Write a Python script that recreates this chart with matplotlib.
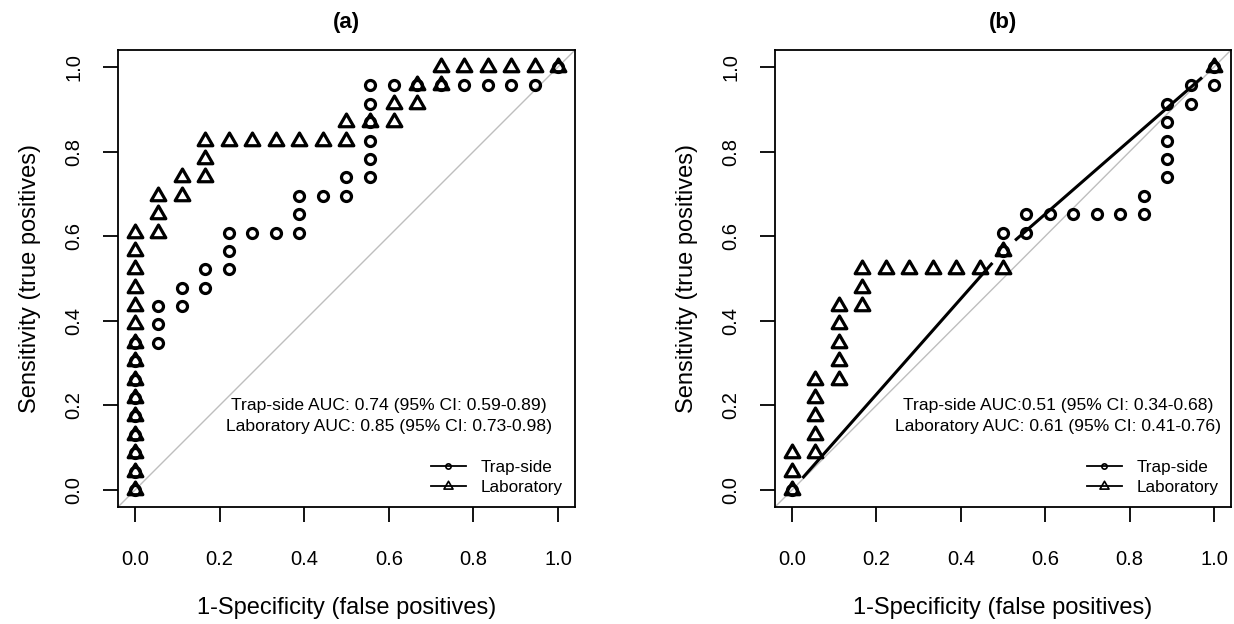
import matplotlib
matplotlib.use("Agg")
import matplotlib.pyplot as plt
import numpy as np
from matplotlib.lines import Line2D
from matplotlib.path import Path
from matplotlib.ticker import FormatStrFormatter

plt.rcParams["font.family"] = ["Liberation Sans", "DejaVu Sans"]

N_NEG = 18  # negatives -> false positive steps
N_POS = 23  # positives -> true positive steps

# ROC points as counts (false positives, true positives), in threshold order
trap_a_fp = [0, 0, 0, 0, 0, 0, 0, 0, 0, 1, 1, 1, 2, 2, 3, 3, 4, 4, 4, 5, 6, 7, 7, 7,
             8, 9, 9, 10, 10, 10, 10, 10, 10, 11, 12, 13, 14, 15, 16, 17, 18]
trap_a_tp = [0, 1, 2, 3, 4, 5, 6, 7, 8, 8, 9, 10, 10, 11, 11, 12, 12, 13, 14, 14, 14, 14, 15, 16,
             16, 16, 17, 17, 18, 19, 20, 21, 22, 22, 22, 22, 22, 22, 22, 22, 23]

lab_a_fp = [0, 0, 0, 0, 0, 0, 0, 0, 0, 0, 0, 0, 0, 0, 0, 1, 1, 1, 2, 2, 3, 3, 3,
            4, 5, 6, 7, 8, 9, 9, 10, 11, 11, 12, 12, 13, 13, 14, 15, 16, 17, 18]
lab_a_tp = [0, 1, 2, 3, 4, 5, 6, 7, 8, 9, 10, 11, 12, 13, 14, 14, 15, 16, 16, 17, 17, 18, 19,
            19, 19, 19, 19, 19, 19, 20, 20, 20, 21, 21, 22, 22, 23, 23, 23, 23, 23, 23]

trap_b_fp = [0, 9, 9, 10, 10, 11, 12, 13, 14, 15, 15, 16, 16, 16, 16, 16, 17, 17, 18, 18]
trap_b_tp = [0, 13, 14, 14, 15, 15, 15, 15, 15, 15, 16, 17, 18, 19, 20, 21, 21, 22, 22, 23]

lab_b_fp = [0, 0, 0, 1, 1, 1, 1, 1, 2, 2, 2, 2, 2, 3, 3, 3, 4, 5, 6, 7, 8, 9, 9, 18]
lab_b_tp = [0, 1, 2, 2, 3, 4, 5, 6, 6, 7, 8, 9, 10, 10, 11, 12, 12, 12, 12, 12, 12, 12, 13, 23]

auc_a = ["Trap-side AUC: 0.74 (95% CI: 0.59-0.89)",
         "Laboratory AUC: 0.85 (95% CI: 0.73-0.98)"]
auc_b = ["Trap-side AUC:0.51 (95% CI: 0.34-0.68)",
         "Laboratory AUC: 0.61 (95% CI: 0.41-0.76)"]

TRIANGLE = Path([(0, 1.155), (-1, -0.577), (1, -0.577), (0, 1.155)], closed=True)
TICKS = [0.0, 0.2, 0.4, 0.6, 0.8, 1.0]


def connect(ax, x, y, gap=16, **kw):
    """type='b' style: join points, leaving a gap round each marker"""
    pts = ax.transData.transform(np.column_stack([x, y]))
    inv = ax.transData.inverted()
    for p, q in zip(pts[:-1], pts[1:]):
        d = np.hypot(*(q - p))
        if d <= 2 * gap:
            continue
        u = (q - p) / d
        a, b = inv.transform([p + u * gap, q - u * gap])
        ax.plot([a[0], b[0]], [a[1], b[1]], solid_capstyle="butt", **kw)


def roc_panel(ax, title, trap, lab, auc_text, text_x):
    ax.set_xlim(-0.04, 1.04)
    ax.set_ylim(-0.04, 1.04)
    ax.axline((0, 0), (1, 1), color="#bebebe", lw=1, zorder=1)

    for (fp, tp), marker, ms in ((trap, "o", 7.2), (lab, TRIANGLE, 12.2)):
        x = np.array(fp) / N_NEG
        y = np.array(tp) / N_POS
        connect(ax, x, y, color="black", lw=2.2, zorder=2)
        ax.plot(x, y, ls="none", marker=marker, ms=ms, mew=2.3,
                mfc="none", mec="black", zorder=3)

    ax.text(text_x, 0.2, auc_text[0], ha="center", va="center", fontsize=12.6)
    ax.text(text_x, 0.15, auc_text[1], ha="center", va="center", fontsize=12.6)

    handles = [
        Line2D([], [], color="black", lw=1.3, marker="o", ms=3.8, mew=1.2, mfc="none"),
        Line2D([], [], color="black", lw=1.3, marker=TRIANGLE, ms=7.5, mew=1.2, mfc="none"),
    ]
    ax.legend(handles, ["Trap-side", "Laboratory"], loc="lower right", frameon=False,
              fontsize=12.3, handlelength=2.0, handletextpad=0.9, labelspacing=0.3,
              borderaxespad=0.3)

    ax.set_xticks(TICKS)
    ax.set_yticks(TICKS)
    ax.xaxis.set_major_formatter(FormatStrFormatter("%.1f"))
    ax.yaxis.set_major_formatter(FormatStrFormatter("%.1f"))
    ax.tick_params(direction="out", length=10.8, width=1.3, labelsize=14.5, color="black")
    ax.tick_params(axis="x", pad=20)
    ax.tick_params(axis="y", pad=14, labelrotation=90)
    for lbl in ax.get_yticklabels():
        lbl.set_va("center")
    for s in ax.spines.values():
        s.set_linewidth(1.3)
        s.set_color("black")

    ax.set_title(title, fontweight="bold", fontsize=16, pad=16)
    ax.set_xlabel("1-Specificity (false positives)", fontsize=17, labelpad=20)
    ax.set_ylabel("Sensitivity (true positives)", fontsize=17, labelpad=17)


fig = plt.figure(figsize=(12.34, 6.24), dpi=100)
ax_a = fig.add_axes([118 / 1234, 1 - 507 / 624, 457 / 1234, 457 / 624])
ax_b = fig.add_axes([775 / 1234, 1 - 507 / 624, 456 / 1234, 457 / 624])

roc_panel(ax_a, "(a)", (trap_a_fp, trap_a_tp), (lab_a_fp, lab_a_tp), auc_a, 0.6)
roc_panel(ax_b, "(b)", (trap_b_fp, trap_b_tp), (lab_b_fp, lab_b_tp), auc_b, 0.63)

fig.savefig("out.png", dpi=100, facecolor="white")
